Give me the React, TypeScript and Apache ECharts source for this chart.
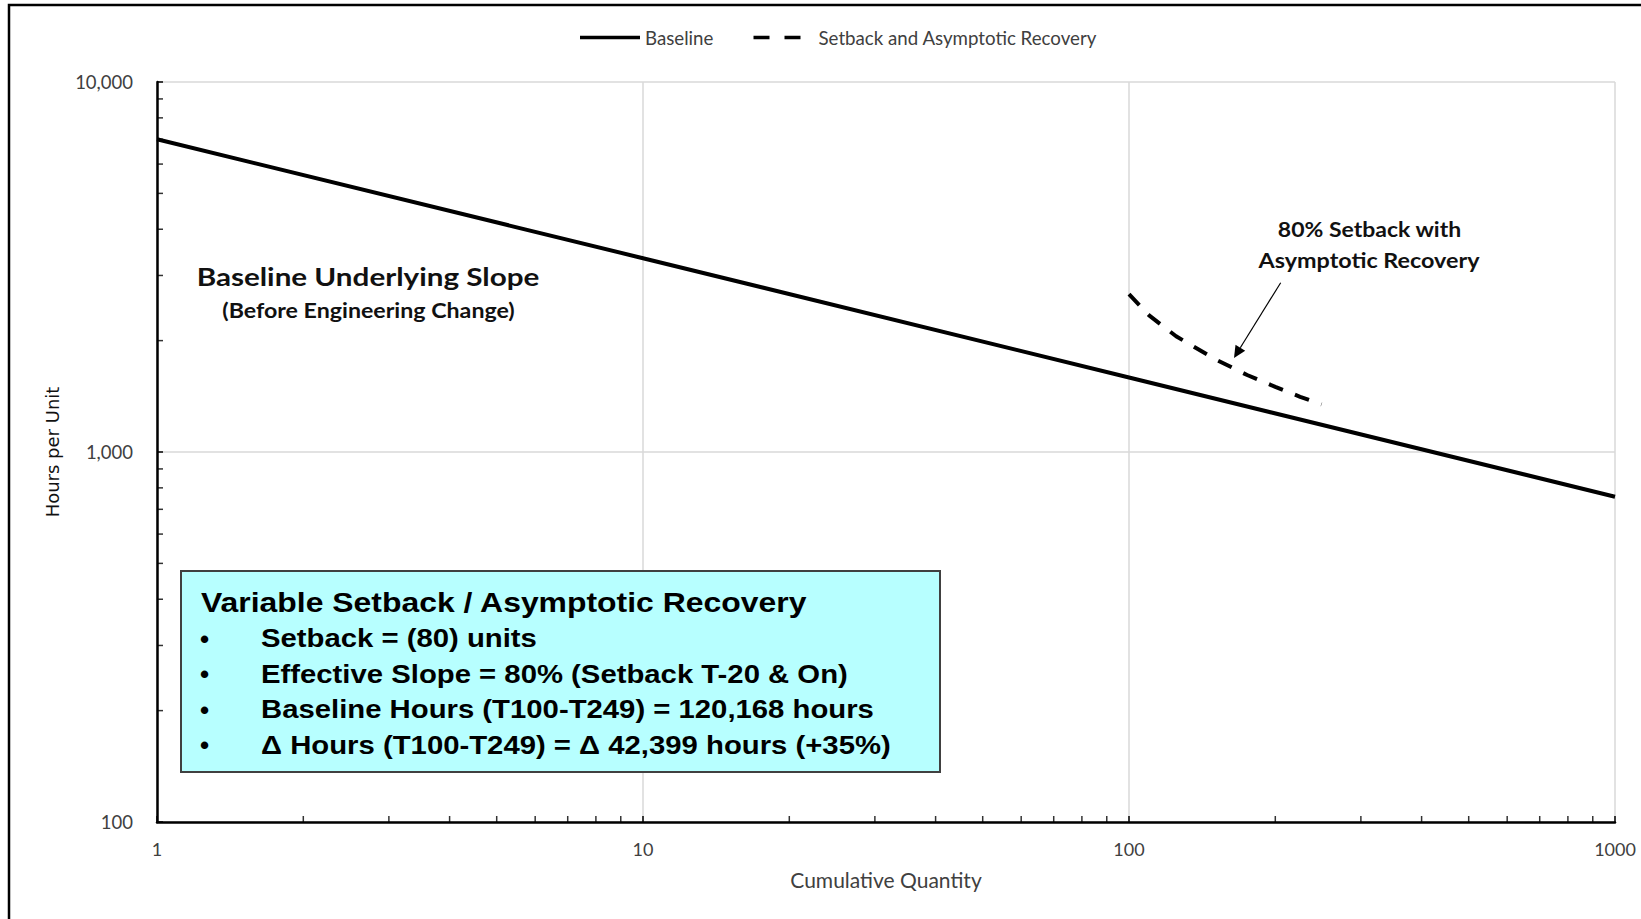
import React, { useEffect, useRef } from "react";
import * as echarts from "echarts";

// ---- data ----
const seriesNames = ["Baseline", "Setback and Asymptotic Recovery"];
const baselineQty = [1, 10, 100, 1000];
const baselineHours = [7000, 3340, 1590, 757];
const setbackQty = [100, 110, 125, 150, 175, 200, 225, 249];
const setbackHours = [2670, 2340, 2055, 1785, 1615, 1500, 1410, 1345];
const xMinorTicks = [2, 3, 4, 5, 6, 7, 8, 9, 20, 30, 40, 50, 60, 70, 80, 90, 200, 300, 400, 500, 600, 700, 800, 900];
const yMinorTicks = [200, 300, 400, 500, 600, 700, 800, 900, 2000, 3000, 4000, 5000, 6000, 7000, 8000, 9000];
const xAxisTitle = "Cumulative Quantity";
const yAxisTitle = "Hours per Unit";
const noteLeft = ["Baseline Underlying Slope", "(Before Engineering Change)"];
const noteRight = ["80% Setback with", "Asymptotic Recovery"];
const boxTitle = "Variable Setback / Asymptotic Recovery";
const boxBullets = [
  "Setback = (80) units",
  "Effective Slope = 80% (Setback T-20 & On)",
  "Baseline Hours (T100-T249) = 120,168 hours",
  "\u0394 Hours (T100-T249) = \u0394 42,399 hours (+35%)",
];

const LATO = "Lato, 'Open Sans', sans-serif";
const ARIAL = "'Liberation Sans', Arial, sans-serif";
const LABEL_COLOR = "#404040";

const SOLID_ICON = "path://M0,0L60,0L60,4L0,4Z";
const DASH_ICON = "path://M0,0L16,0L16,4L0,4Z M31,0L47,0L47,4L31,4Z M60,2L60,2.01";

export default function App() {
  const ref = useRef<HTMLDivElement>(null);

  useEffect(() => {
    if (!ref.current) return;
    const chart = echarts.init(ref.current, undefined, { renderer: "svg" });

    const bulletY = [638.5, 674, 709.5, 745];
    const noteText = (text: string, x: number, y: number, size: number, sx: number) => ({
      type: "text",
      z: 100,
      x,
      y,
      scaleX: sx,
      style: {
        text,
        fontFamily: LATO,
        fontWeight: "bold",
        fontSize: size,
        fill: "#111",
        textAlign: "center",
        textVerticalAlign: "middle",
      },
    });
    const graphic: any[] = [
      {
        type: "rect",
        z: 100,
        shape: { x: 9, y: 5, width: 1700, height: 1000 },
        style: { fill: "none", stroke: "#000", lineWidth: 2.5 },
        silent: true,
      },
      noteText(noteLeft[0], 368, 276, 25, 1.185),
      noteText(noteLeft[1], 368.5, 309.5, 21, 1.105),
      noteText(noteRight[0], 1369.5, 229, 21.5, 1.07),
      noteText(noteRight[1], 1369, 260, 21.5, 1.085),
      {
        type: "line",
        z: 100,
        shape: { x1: 1280.7, y1: 282.7, x2: 1240.3, y2: 347.8 },
        style: { stroke: "#000", lineWidth: 1.2 },
      },
      {
        type: "polygon",
        z: 100,
        shape: {
          points: [
            [1234, 358],
            [1245.2, 350.8],
            [1235.5, 344.8],
          ],
        },
        style: { fill: "#000" },
      },
      {
        type: "rect",
        z: 100,
        shape: { x: 181, y: 571, width: 759, height: 201 },
        style: { fill: "#B7FFFF", stroke: "#404040", lineWidth: 2 },
      },
      {
        type: "text",
        z: 101,
        x: 201,
        y: 602,
        scaleX: 1.12,
        style: {
          text: boxTitle,
          fontFamily: ARIAL,
          fontWeight: "bold",
          fontSize: 28.5,
          fill: "#000",
          textAlign: "left",
          textVerticalAlign: "middle",
        },
      },
    ];
    boxBullets.forEach((t, i) => {
      graphic.push({
        type: "text",
        z: 101,
        x: 200,
        y: bulletY[i],
        style: {
          text: "\u2022",
          fontFamily: ARIAL,
          fontWeight: "bold",
          fontSize: 26,
          fill: "#000",
          textAlign: "left",
          textVerticalAlign: "middle",
        },
      });
      graphic.push({
        type: "text",
        z: 101,
        x: 261,
        y: bulletY[i],
        scaleX: 1.127,
        style: {
          text: t,
          fontFamily: ARIAL,
          fontWeight: "bold",
          fontSize: 26,
          fill: "#000",
          textAlign: "left",
          textVerticalAlign: "middle",
        },
      });
    });

    const legendText = { fontFamily: LATO, fontSize: 18.7, color: LABEL_COLOR };

    chart.setOption({
      animation: false,
      backgroundColor: "#fff",
      grid: { left: 157, top: 82, width: 1458, height: 740, containLabel: false },
      legend: [
        {
          data: [{ name: seriesNames[0], icon: SOLID_ICON }],
          left: 575,
          top: 23,
          itemWidth: 60,
          itemHeight: 3.5,
          symbolKeepAspect: false,
          textStyle: legendText,
          selectedMode: false,
        },
        {
          data: [{ name: seriesNames[1], icon: DASH_ICON }],
          left: 748.5,
          top: 23,
          itemWidth: 60,
          itemHeight: 3.5,
          symbolKeepAspect: false,
          textStyle: legendText,
          selectedMode: false,
        },
      ],
      xAxis: {
        type: "log",
        logBase: 10,
        min: 1,
        max: 1000,
        name: xAxisTitle,
        nameLocation: "middle",
        nameGap: 47,
        nameTextStyle: { fontFamily: LATO, fontSize: 21, color: LABEL_COLOR, verticalAlign: "top" },
        axisLine: { show: true, lineStyle: { color: "#000", width: 2.5 } },
        axisTick: { show: true, inside: true, length: 6, lineStyle: { color: "#000", width: 1.5 } },
        axisLabel: {
          show: true,
          margin: 18,
          fontFamily: LATO,
          fontSize: 18,
          color: LABEL_COLOR,
          showMinLabel: true,
          showMaxLabel: true,
          formatter: (v: number) => String(Math.round(v)),
        },
        splitLine: { show: true, lineStyle: { color: "#D9D9D9", width: 1.5 } },
        minorTick: { show: false },
      },
      yAxis: {
        type: "log",
        logBase: 10,
        min: 100,
        max: 10000,
        name: yAxisTitle,
        nameLocation: "middle",
        nameRotate: 90,
        nameGap: 96,
        nameTextStyle: { fontFamily: "'DejaVu Sans', Verdana, sans-serif", fontSize: 18, color: "#111" },
        axisLine: { show: true, lineStyle: { color: "#000", width: 2.5 } },
        axisTick: { show: true, inside: true, length: 6, lineStyle: { color: "#000", width: 1.5 } },
        axisLabel: {
          show: true,
          margin: 24,
          fontFamily: LATO,
          fontSize: 18.5,
          color: LABEL_COLOR,
          showMinLabel: true,
          showMaxLabel: true,
          formatter: (v: number) => Math.round(v).toLocaleString("en-US"),
        },
        splitLine: { show: true, lineStyle: { color: "#D9D9D9", width: 1.5 } },
      },
      series: [
        {
          name: seriesNames[0],
          type: "line",
          data: baselineQty.map((q, i) => [q, baselineHours[i]]),
          symbol: "none",
          showSymbol: false,
          lineStyle: { color: "#000", width: 4 },
          itemStyle: { color: "#000" },
          z: 5,
        },
        {
          name: seriesNames[1],
          type: "line",
          data: setbackQty.map((q, i) => [q, setbackHours[i]]),
          symbol: "none",
          showSymbol: false,
          lineStyle: { color: "#000", width: 4, type: [15, 13], cap: "butt" },
          itemStyle: { color: "#000" },
          z: 5,
        },
        {
          name: "xMinor",
          type: "scatter",
          data: xMinorTicks.map((q) => [q, 100]),
          symbol: "rect",
          symbolSize: [1.5, 6],
          symbolOffset: [0, -3],
          itemStyle: { color: "#000" },
          silent: true,
          clip: false,
          z: 6,
        },
        {
          name: "yMinor",
          type: "scatter",
          data: yMinorTicks.map((h) => [1, h]),
          symbol: "rect",
          symbolSize: [6, 1.5],
          symbolOffset: [3, 0],
          itemStyle: { color: "#000" },
          silent: true,
          clip: false,
          z: 6,
        },
      ],
      graphic,
    });

    return () => chart.dispose();
  }, []);

  return (
    <div
      ref={ref}
      style={{ position: "fixed", left: 0, top: 0, width: 1641, height: 919, background: "#fff" }}
    />
  );
}
